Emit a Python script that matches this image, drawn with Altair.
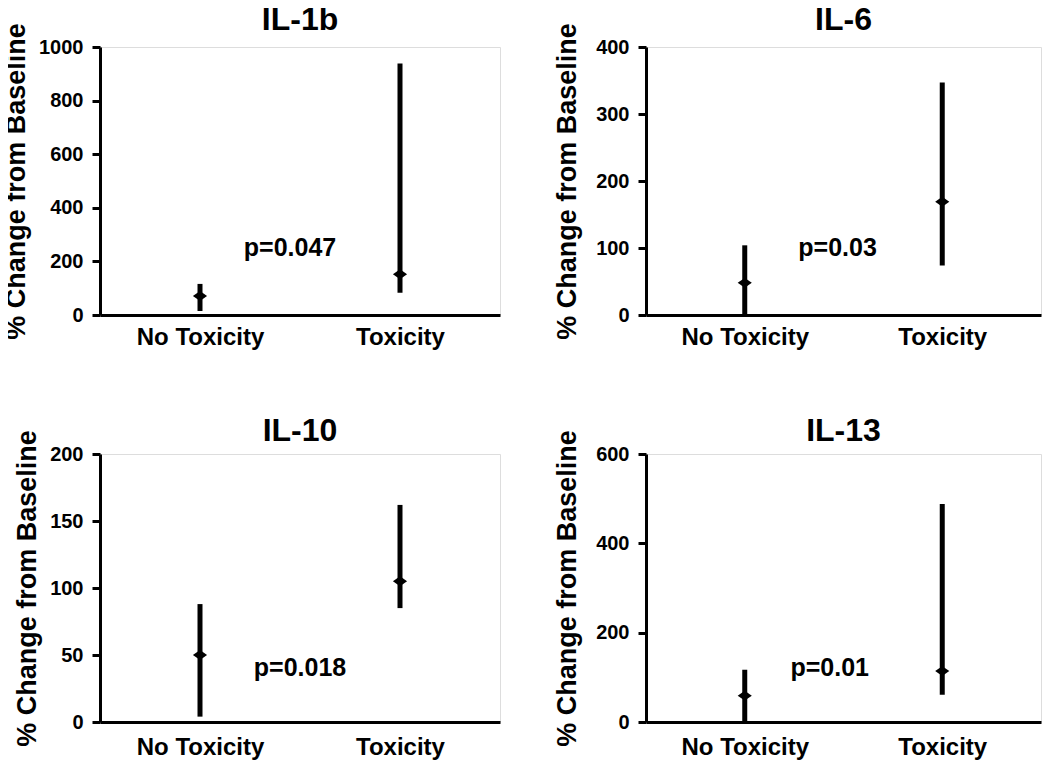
import altair as alt
import pandas as pd

# ---- data ----
panels = ["IL-1b", "IL-6", "IL-10", "IL-13"]
groups = ["No Toxicity", "Toxicity"]
group_pos = [0.5, 1.5]

low_no = [15, 0, 4, 0]
low_tox = [83, 74, 85, 61]
high_no = [116, 104, 88, 117]
high_tox = [938, 347, 162, 488]
med_no = [71, 48, 50, 59]
med_tox = [152, 169, 105, 114]

y_max = [1000, 400, 200, 600]
y_step = [200, 100, 50, 200]

p_text = ["p=0.047", "p=0.03", "p=0.018", "p=0.01"]
p_x = [0.95, 0.97, 1.0, 0.93]
p_y = [250, 100, 40, 121]

FONT = "Liberation Sans"
panel_w = [400, 395, 400, 395]
PANEL_H = 268
title_offset = [-14, -14, -18, -18]
xlabel_pad = [10, 10, 13, 13]


def panel(i):
    df = pd.DataFrame({
        "group": groups,
        "pos": group_pos,
        "low": [low_no[i], low_tox[i]],
        "high": [high_no[i], high_tox[i]],
        "median": [med_no[i], med_tox[i]],
    })
    ann = pd.DataFrame({"x": [p_x[i]], "y": [p_y[i]], "t": [p_text[i]]})

    xscale = alt.Scale(domain=[0, 2], nice=False, zero=False)
    yscale = alt.Scale(domain=[0, y_max[i]], nice=False)
    xaxis = alt.Axis(
        values=group_pos, title=None, grid=False, ticks=False,
        labelExpr="datum.value < 1 ? 'No Toxicity' : 'Toxicity'",
        labelFontSize=24, labelFontWeight="bold", labelFont=FONT,
        labelColor="black", labelPadding=xlabel_pad[i], labelAngle=0,
        domainColor="black", domainWidth=3,
    )
    yaxis = alt.Axis(
        values=list(range(0, y_max[i] + 1, y_step[i])), grid=False,
        format="d",
        title="% Change from Baseline", titleFontSize=27,
        titleFontWeight="bold", titleFont=FONT, titleColor="black",
        titlePadding=8 if i % 2 == 0 else 14,
        labelFontSize=20, labelFontWeight="bold", labelFont=FONT,
        labelColor="black", labelPadding=9,
        tickSize=8, tickWidth=3, tickColor="black",
        domainColor="black", domainWidth=3,
    )
    base = alt.Chart(df)
    rules = base.mark_rule(color="black", strokeWidth=5).encode(
        x=alt.X("pos:Q", scale=xscale, axis=xaxis),
        y=alt.Y("low:Q", scale=yscale, axis=yaxis),
        y2="high:Q",
    )
    meds = base.mark_point(
        shape="M-1,0L0,-0.7L1,0L0,0.7Z", filled=True, color="black",
        opacity=1, size=200,
    ).encode(x="pos:Q", y="median:Q")
    txt = alt.Chart(ann).mark_text(
        font=FONT, fontSize=25, fontWeight="bold", color="black",
        align="center", baseline="middle",
    ).encode(x="x:Q", y="y:Q", text="t:N")
    return alt.layer(rules, meds, txt).properties(
        width=panel_w[i], height=PANEL_H,
        title=alt.TitleParams(panels[i], fontSize=32, fontWeight="bold",
                              font=FONT, color="black", anchor="middle",
                              frame="group", offset=title_offset[i]),
    )


chart = alt.concat(
    *[panel(i) for i in range(4)], columns=2,
    spacing=alt.RowColnumber(row=139, column=146), bounds="flush",
).properties(
    padding={"left": -6, "top": -5, "right": 0, "bottom": 0}
).configure_view(
    stroke="transparent", strokeWidth=0, strokeOpacity=0
).configure_axis(grid=False).configure(background="white")

chart.save("out.html", embed_options={"renderer": "svg", "actions": False})
